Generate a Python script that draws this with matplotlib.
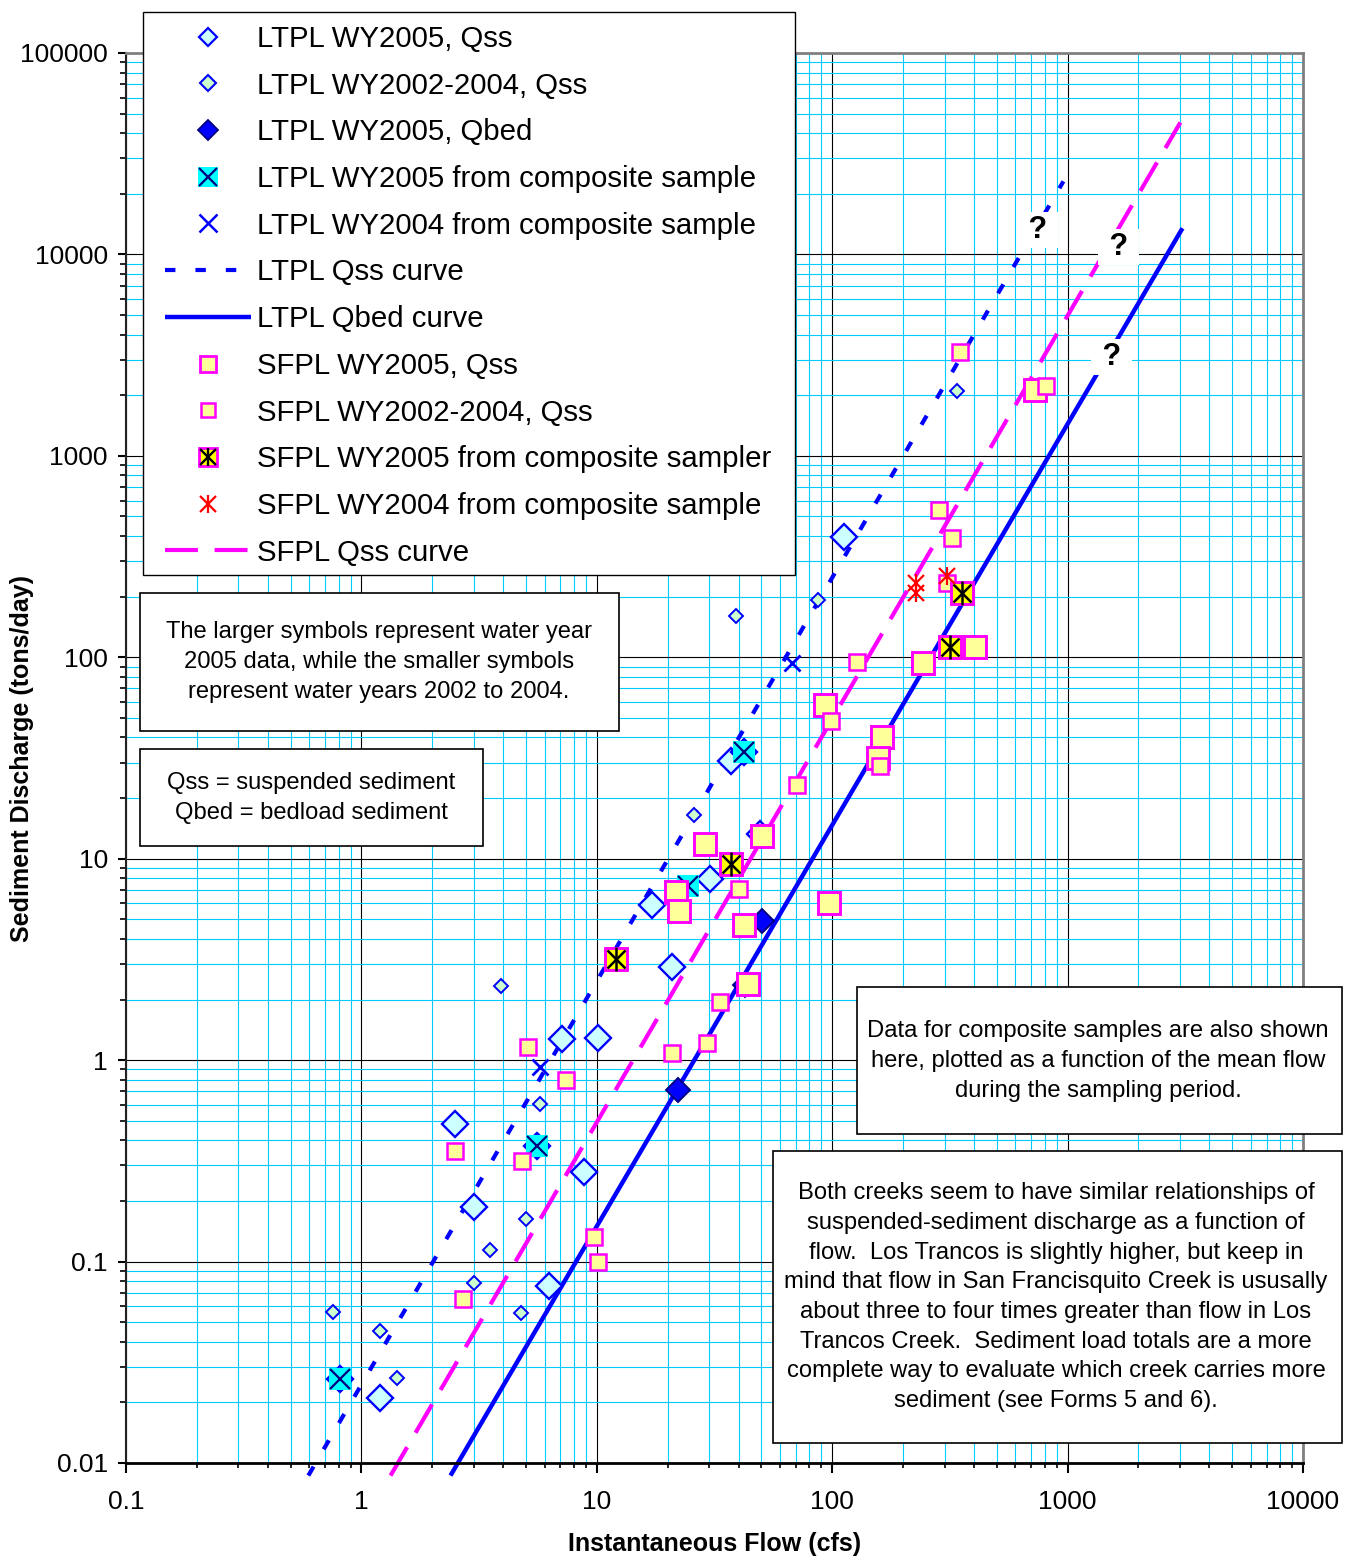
import matplotlib
matplotlib.use("Agg")
import numpy as np
import matplotlib.pyplot as plt
from matplotlib.lines import Line2D
from matplotlib.patches import Rectangle
from matplotlib.ticker import FixedLocator, LogLocator, NullFormatter

plt.rcParams['font.family'] = ['Liberation Sans', 'DejaVu Sans']

# ---------------- data ----------------
x_ticks = [0.1, 1, 10, 100, 1000, 10000]
x_tick_labels = ["0.1", "1", "10", "100", "1000", "10000"]
y_ticks = [0.01, 0.1, 1, 10, 100, 1000, 10000, 100000]
y_tick_labels = ["0.01", "0.1", "1", "10", "100", "1000", "10000", "100000"]

# LTPL WY2005, Qss (large diamonds)
ltpl05_qss_x = [112.7, 37.0, 17.1, 30.4, 20.9, 7.14, 10.1, 2.51, 8.86, 3.02, 6.29, 1.20, 49.3, 0.814, 5.59, 42.4]
ltpl05_qss_y = [396, 30.4, 5.87, 7.9, 2.89, 1.27, 1.29, 0.48, 0.28, 0.187, 0.076, 0.0211, 13.3, 0.0262, 0.375, 34.0]
# LTPL WY2002-2004, Qss (small diamonds)
ltpl0204_qss_x = [39.2, 87.4, 340, 26.0, 3.93, 5.76, 3.53, 5.02, 3.02, 4.78, 0.76, 1.20, 1.41]
ltpl0204_qss_y = [161, 193, 2100, 16.4, 2.33, 0.605, 0.114, 0.163, 0.078, 0.0557, 0.0563, 0.0453, 0.0265]
# LTPL WY2005, Qbed
ltpl05_qbed_x = [22.2, 50.5, 42.8]
ltpl05_qbed_y = [0.71, 4.89, 2.35]
# LTPL WY2005 from composite sample
ltpl05_comp_x = [0.814, 5.59, 42.4, 24.5]
ltpl05_comp_y = [0.0262, 0.375, 34.0, 7.3]
# LTPL WY2004 from composite sample
ltpl04_comp_x = [67.8, 5.76]
ltpl04_comp_y = [94, 0.92]
# SFPL WY2005, Qss (large squares)
sfpl05_qss_x = [93.6, 163, 244, 405, 730, 28.9, 50.5, 21.8, 22.4, 42.4, 44.0, 97.3, 157]
sfpl05_qss_y = [58.2, 40.4, 94, 112, 2120, 11.8, 12.9, 6.8, 5.5, 4.67, 2.38, 6.0, 31.8]
# SFPL WY2002-2004, Qss (small squares)
sfpl0204_qss_x = [350, 283, 324, 128, 99.3, 71.1, 40.0, 33.5, 29.5, 20.9, 5.12, 7.43, 2.51, 4.83, 9.77, 10.07, 2.69, 308, 160, 813]
sfpl0204_qss_y = [3275, 540, 392, 95, 48.5, 23.1, 7.05, 1.94, 1.21, 1.08, 1.16, 0.796, 0.354, 0.316, 0.133, 0.10, 0.0653, 234, 28.7, 2222]
# SFPL WY2005 from composite sampler
sfpl05_comp_x = [12.1, 37.3, 318, 357]
sfpl05_comp_y = [3.17, 9.37, 112, 209]
# SFPL WY2004 from composite sample
sfpl04_comp_x = [228, 228, 308]
sfpl04_comp_y = [234, 209, 254]

# rating curves (end points of the straight log-log lines)
ltpl_qss_curve_x = [0.595, 960]
ltpl_qss_curve_y = [0.00866, 23060]
ltpl_qbed_curve_x = [2.39, 3076]
ltpl_qbed_curve_y = [0.00866, 13490]
sfpl_qss_curve_x = [1.33, 3013]
sfpl_qss_curve_y = [0.00866, 45200]

# question marks at the extrapolated ends of the curves
q_x = [745, 1644, 1535]
q_y = [13200, 10860, 3090]

legend_labels = [
    "LTPL WY2005, Qss",
    "LTPL WY2002-2004, Qss",
    "LTPL WY2005, Qbed",
    "LTPL WY2005 from composite sample",
    "LTPL WY2004 from composite sample",
    "LTPL Qss curve",
    "LTPL Qbed curve",
    "SFPL WY2005, Qss",
    "SFPL WY2002-2004, Qss",
    "SFPL WY2005 from composite sampler",
    "SFPL WY2004 from composite sample",
    "SFPL Qss curve",
]

note1 = ["The larger symbols represent water year",
         "2005 data, while the smaller symbols",
         "represent water years 2002 to 2004."]
note2 = ["Qss = suspended sediment",
         "Qbed = bedload sediment"]
note3 = ["Data for composite samples are also shown",
         "here, plotted as a function of the mean flow",
         "during the sampling period."]
note4 = ["Both creeks seem to have similar relationships of",
         "suspended-sediment discharge as a function of",
         "flow.  Los Trancos is slightly higher, but keep in",
         "mind that flow in San Francisquito Creek is ususally",
         "about three to four times greater than flow in Los",
         "Trancos Creek.  Sediment load totals are a more",
         "complete way to evaluate which creek carries more",
         "sediment (see Forms 5 and 6)."]

# ---------------- styles ----------------
BLUE = '#0000FF'
NAVY = '#000080'
MAG = '#FF00FF'
LCYAN = '#CCFFFF'
LGREEN = '#CCFFCC'
LYEL = '#FFFF99'
CYAN = '#00FFFF'
YEL = '#FFFF00'
RED = '#FF0000'

W, H = 1350, 1556
fig = plt.figure(figsize=(W / 100, H / 100), dpi=100)
fig.patch.set_facecolor('white')
ax = fig.add_axes([126 / W, 1 - 1463 / H, (1303 - 126) / W, (1463 - 53) / H])
ax.set_xscale('log')
ax.set_yscale('log')
ax.set_xlim(0.1, 10000)
ax.set_ylim(0.01, 100000)

ax.xaxis.set_major_locator(FixedLocator(x_ticks))
ax.set_xticklabels(x_tick_labels)
ax.yaxis.set_major_locator(FixedLocator(y_ticks))
ax.set_yticklabels(y_tick_labels)
ax.xaxis.set_minor_locator(LogLocator(base=10, subs=np.arange(2, 10), numticks=100))
ax.yaxis.set_minor_locator(LogLocator(base=10, subs=np.arange(2, 10), numticks=100))
ax.xaxis.set_minor_formatter(NullFormatter())
ax.yaxis.set_minor_formatter(NullFormatter())

ax.set_axisbelow(True)
ax.grid(which='minor', color='#00CCFF', lw=0.8)
ax.grid(which='major', color='black', lw=0.8)

for s in ['top', 'right']:
    ax.spines[s].set_color('#808080')
    ax.spines[s].set_linewidth(2.0)
ax.spines['left'].set_color('#222222')
ax.spines['left'].set_linewidth(1.5)
ax.spines['bottom'].set_color('black')
ax.spines['bottom'].set_linewidth(2.0)

ax.tick_params(axis='both', which='both', direction='out', labelsize=19, color='black')
ax.tick_params(axis='x', which='major', length=7, width=1.5, pad=12.5)
ax.tick_params(axis='x', which='minor', length=3.6, width=1.2)
ax.tick_params(axis='y', which='major', length=6, width=1.5, pad=7)
ax.tick_params(axis='y', which='minor', length=4, width=1.2)

ax.set_xlabel('Instantaneous Flow (cfs)', fontsize=18, fontweight='bold', va='center')
ax.xaxis.set_label_coords(0.5, (1463 - 1544) / 1410)
ax.set_ylabel('Sediment Discharge (tons/day)', fontsize=18, fontweight='bold', va='center', ha='center')
ax.yaxis.set_label_coords((22 - 126) / 1177, 0.5)

# curves
ltpl_qss_style = dict(color=BLUE, lw=3, linestyle=(0, (2.5, 4.8)), dash_capstyle='butt')
ltpl_qbed_style = dict(color=BLUE, lw=3.2, linestyle='-', solid_capstyle='butt')
sfpl_qss_style = dict(color=MAG, lw=3, linestyle=(0, (7.9, 4.0)), dash_capstyle='butt')
ax.plot(ltpl_qss_curve_x, ltpl_qss_curve_y, clip_on=False, zorder=2, **ltpl_qss_style)
ax.plot(ltpl_qbed_curve_x, ltpl_qbed_curve_y, clip_on=False, zorder=2, **ltpl_qbed_style)
ax.plot(sfpl_qss_curve_x, sfpl_qss_curve_y, clip_on=False, zorder=2, **sfpl_qss_style)

# markers
ax.plot(ltpl05_qss_x, ltpl05_qss_y, ls='none', marker='D', ms=13.3, mfc=LCYAN, mec=BLUE, mew=1.7, zorder=3)
ax.plot(ltpl0204_qss_x, ltpl0204_qss_y, ls='none', marker='D', ms=7.4, mfc=LGREEN, mec=BLUE, mew=1.4, zorder=3.1)
ax.plot(ltpl05_qbed_x, ltpl05_qbed_y, ls='none', marker='D', ms=12, mfc=BLUE, mec=NAVY, mew=1.4, zorder=3.2)
ax.plot(ltpl05_comp_x, ltpl05_comp_y, ls='none', marker='s', ms=16.5, mfc=CYAN, mec=CYAN, mew=0, zorder=3.3)
ax.plot(ltpl05_comp_x, ltpl05_comp_y, ls='none', marker='x', ms=14, mec=NAVY, mew=1.6, zorder=3.35)
ax.plot(ltpl04_comp_x, ltpl04_comp_y, ls='none', marker='x', ms=12, mec=BLUE, mew=2.0, zorder=3.4)
ax.plot(sfpl05_qss_x, sfpl05_qss_y, ls='none', marker='s', ms=16, mfc=LYEL, mec=MAG, mew=2.1, zorder=3.5)
ax.plot(sfpl0204_qss_x, sfpl0204_qss_y, ls='none', marker='s', ms=10.9, mfc=LYEL, mec=MAG, mew=1.8, zorder=3.6)
ax.plot(sfpl05_comp_x, sfpl05_comp_y, ls='none', marker='s', ms=16.5, mfc=YEL, mec=MAG, mew=2.1, zorder=3.7)
ax.plot(sfpl05_comp_x, sfpl05_comp_y, ls='none', marker='x', ms=13, mec='black', mew=1.8, zorder=3.75)
ax.plot(sfpl05_comp_x, sfpl05_comp_y, ls='none', marker='|', ms=17, mec='black', mew=1.8, zorder=3.75)
ax.plot(sfpl04_comp_x, sfpl04_comp_y, ls='none', marker='x', ms=11.5, mec=RED, mew=1.6, zorder=3.8)
ax.plot(sfpl04_comp_x, sfpl04_comp_y, ls='none', marker='|', ms=12.5, mec=RED, mew=1.6, zorder=3.8)

for qx, qy in zip(q_x, q_y):
    ax.text(qx, qy, ' ? ', ha='center', va='center', fontsize=22, fontweight='bold',
            bbox=dict(boxstyle='square,pad=0.1', fc='white', ec='none'), zorder=6)

# ---------------- legend ----------------
def mk(marker, ms, mfc='none', mec='none', mew=1.0):
    return Line2D([], [], ls='none', marker=marker, ms=ms, mfc=mfc, mec=mec, mew=mew)

handles = [
    mk('D', 9.5, LCYAN, BLUE, 1.6),
    mk('D', 8.0, LGREEN, BLUE, 1.5),
    mk('D', 10.0, BLUE, NAVY, 1.3),
    (mk('s', 13.7, CYAN, CYAN, 0), mk('x', 12.5, mec=NAVY, mew=1.6)),
    mk('x', 12.5, mec=BLUE, mew=1.8),
    Line2D([], [], **ltpl_qss_style),
    Line2D([], [], **ltpl_qbed_style),
    mk('s', 12.0, LYEL, MAG, 2.0),
    mk('s', 10.5, LYEL, MAG, 1.8),
    (mk('s', 13.0, YEL, MAG, 2.0), mk('x', 11.5, mec='black', mew=1.7), mk('|', 13.5, mec='black', mew=1.7)),
    (mk('x', 11.5, mec=RED, mew=1.6), mk('|', 13, mec=RED, mew=1.6)),
    Line2D([], [], **sfpl_qss_style),
]

fig.add_artist(Rectangle((143 / W, 1 - 575 / H), (795 - 143) / W, (575 - 12) / H,
                         transform=fig.transFigure, facecolor='white', edgecolor='black',
                         lw=1.0, zorder=2))
leg = fig.legend(handles, legend_labels, loc='upper left',
                 bbox_to_anchor=(165 / W, 1 - 25 / H), bbox_transform=fig.transFigure,
                 frameon=False, fontsize=21.2, borderpad=0, borderaxespad=0,
                 handlelength=2.93, handletextpad=0.18, labelspacing=0.635, numpoints=1)
leg.set_zorder(5)

# ---------------- note boxes ----------------
def note_box(x0, y0, x1, y1, lines, cx, ys):
    fig.add_artist(Rectangle((x0 / W, 1 - y1 / H), (x1 - x0) / W, (y1 - y0) / H,
                             transform=fig.transFigure, facecolor='white', edgecolor='black',
                             lw=1.2, zorder=2))
    for line, yy in zip(lines, ys):
        fig.text(cx / W, 1 - yy / H, line, ha='center', va='center', fontsize=17.1, zorder=4)

note_box(140, 593, 619, 731, note1, 379, [632, 662, 692])
note_box(140, 749, 483, 846, note2, 311, [783, 813])
note_box(857, 987, 1342, 1134, note3, 1098, [1031, 1061, 1091])
note_box(773, 1151, 1342, 1443, note4, 1056, [1193, 1223, 1253, 1282, 1312, 1342, 1371, 1401])

fig.savefig('out.png', dpi=100)
